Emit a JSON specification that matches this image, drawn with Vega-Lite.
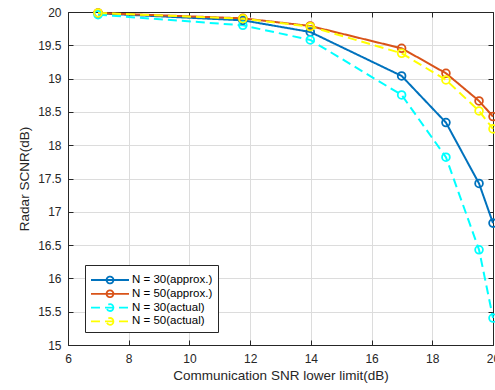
{
  "$schema": "https://vega.github.io/schema/vega-lite/v6.json",
  "width": 425,
  "height": 333,
  "autosize": "none",
  "padding": {"left": 68, "top": 12, "right": 2, "bottom": 45},
  "background": "white",
  "config": {
    "view": {"stroke": null},
    "font": "Liberation Sans",
    "axis": {
      "domainColor": "#262626",
      "tickColor": "#262626",
      "labelColor": "#262626",
      "titleColor": "#262626",
      "labelFont": "Liberation Sans",
      "titleFont": "Liberation Sans",
      "labelFontSize": 12,
      "titleFontSize": 13.5,
      "titleFontWeight": "normal",
      "labelFlush": false,
      "labelOverlap": false,
      "gridColor": "#dcdcdc",
      "gridWidth": 1,
      "tickSize": -5,
      "domainWidth": 1
    }
  },
  "data": {
    "values": [
      {"snr": 6.99, "scnr": 19.98, "series": "N = 30(approx.)"},
      {"snr": 11.76, "scnr": 19.875, "series": "N = 30(approx.)"},
      {"snr": 13.98, "scnr": 19.7, "series": "N = 30(approx.)"},
      {"snr": 16.99, "scnr": 19.04, "series": "N = 30(approx.)"},
      {"snr": 18.45, "scnr": 18.34, "series": "N = 30(approx.)"},
      {"snr": 19.54, "scnr": 17.425, "series": "N = 30(approx.)"},
      {"snr": 20, "scnr": 16.83, "series": "N = 30(approx.)"},
      {"snr": 6.99, "scnr": 19.985, "series": "N = 50(approx.)"},
      {"snr": 11.76, "scnr": 19.905, "series": "N = 50(approx.)"},
      {"snr": 13.98, "scnr": 19.79, "series": "N = 50(approx.)"},
      {"snr": 16.99, "scnr": 19.455, "series": "N = 50(approx.)"},
      {"snr": 18.45, "scnr": 19.08, "series": "N = 50(approx.)"},
      {"snr": 19.54, "scnr": 18.665, "series": "N = 50(approx.)"},
      {"snr": 20, "scnr": 18.43, "series": "N = 50(approx.)"},
      {"snr": 6.99, "scnr": 19.96, "series": "N = 30(actual)"},
      {"snr": 11.76, "scnr": 19.8, "series": "N = 30(actual)"},
      {"snr": 13.98, "scnr": 19.58, "series": "N = 30(actual)"},
      {"snr": 16.99, "scnr": 18.755, "series": "N = 30(actual)"},
      {"snr": 18.45, "scnr": 17.82, "series": "N = 30(actual)"},
      {"snr": 19.54, "scnr": 16.43, "series": "N = 30(actual)"},
      {"snr": 20, "scnr": 15.405, "series": "N = 30(actual)"},
      {"snr": 6.99, "scnr": 19.985, "series": "N = 50(actual)"},
      {"snr": 11.76, "scnr": 19.9, "series": "N = 50(actual)"},
      {"snr": 13.98, "scnr": 19.78, "series": "N = 50(actual)"},
      {"snr": 16.99, "scnr": 19.38, "series": "N = 50(actual)"},
      {"snr": 18.45, "scnr": 18.98, "series": "N = 50(actual)"},
      {"snr": 19.54, "scnr": 18.515, "series": "N = 50(actual)"},
      {"snr": 20, "scnr": 18.245, "series": "N = 50(actual)"}
    ]
  },
  "layer": [
    {
      "mark": {"type": "line", "strokeWidth": 2},
      "encoding": {
        "x": {
          "field": "snr", "type": "quantitative",
          "scale": {"domain": [6, 20], "nice": false},
          "axis": {"values": [6, 8, 10, 12, 14, 16, 18, 20], "title": "Communication SNR lower limit(dB)", "labelPadding": 13, "titlePadding": 4, "grid": true}
        },
        "y": {
          "field": "scnr", "type": "quantitative",
          "scale": {"domain": [15, 20], "nice": false, "zero": false},
          "axis": {"values": [15, 15.5, 16, 16.5, 17, 17.5, 18, 18.5, 19, 19.5, 20], "format": "~g", "title": "Radar SCNR(dB)", "labelPadding": 12, "titlePadding": 6, "grid": true}
        },
        "color": {
          "field": "series", "type": "nominal",
          "scale": {
            "domain": ["N = 30(approx.)", "N = 50(approx.)", "N = 30(actual)", "N = 50(actual)"],
            "range": ["#0072BD", "#D95319", "#00FFFF", "#FFFF00"]
          },
          "legend": {
            "orient": "none",
            "legendX": 17,
            "legendY": 253,
            "title": "\u00a0",
            "titleFontSize": 4.5,
            "titlePadding": 0,
            "symbolType": "M0.18,0A0.18,0.18,0,1,1,-0.18,0A0.18,0.18,0,1,1,0.18,0M-1,0L1,0",
            "symbolSize": 1444,
            "symbolStrokeWidth": 1.8,
            "clipHeight": 11,
            "labelFontSize": 11.5,
            "labelColor": "black",
            "labelOffset": 2,
            "padding": 5,
            "rowPadding": 1.8,
            "fillColor": "white",
            "strokeColor": "#262626",
            "labelExpr": "datum.label + '\u00a0\u00a0\u00a0\u00a0\u00a0\u00a0\u00a0'",
            "encode": {
              "symbols": {
                "update": {
                  "fill": {"value": "transparent"},
                  "strokeDash": {"signal": "test(/actual/, datum.value) ? [22, 0, 8, 7, 8, 7, 8, 100] : [1, 0]"}
                }
              }
            }
          }
        },
        "strokeDash": {
          "field": "series", "type": "nominal",
          "scale": {
            "domain": ["N = 30(approx.)", "N = 50(approx.)", "N = 30(actual)", "N = 50(actual)"],
            "range": [[1, 0], [1, 0], [9, 5], [9, 5]]
          },
          "legend": null
        }
      }
    },
    {
      "mark": {"type": "point", "size": 60, "strokeWidth": 1.8, "filled": false, "opacity": 1},
      "encoding": {
        "x": {
          "field": "snr", "type": "quantitative",
          "axis": {"orient": "top", "values": [6, 8, 10, 12, 14, 16, 18, 20], "labels": false, "title": null, "grid": false}
        },
        "y": {
          "field": "scnr", "type": "quantitative",
          "axis": {"orient": "right", "values": [15, 15.5, 16, 16.5, 17, 17.5, 18, 18.5, 19, 19.5, 20], "labels": false, "title": null, "grid": false}
        },
        "color": {"field": "series", "type": "nominal"}
      }
    }
  ],
  "resolve": {"axis": {"x": "independent", "y": "independent"}}
}
